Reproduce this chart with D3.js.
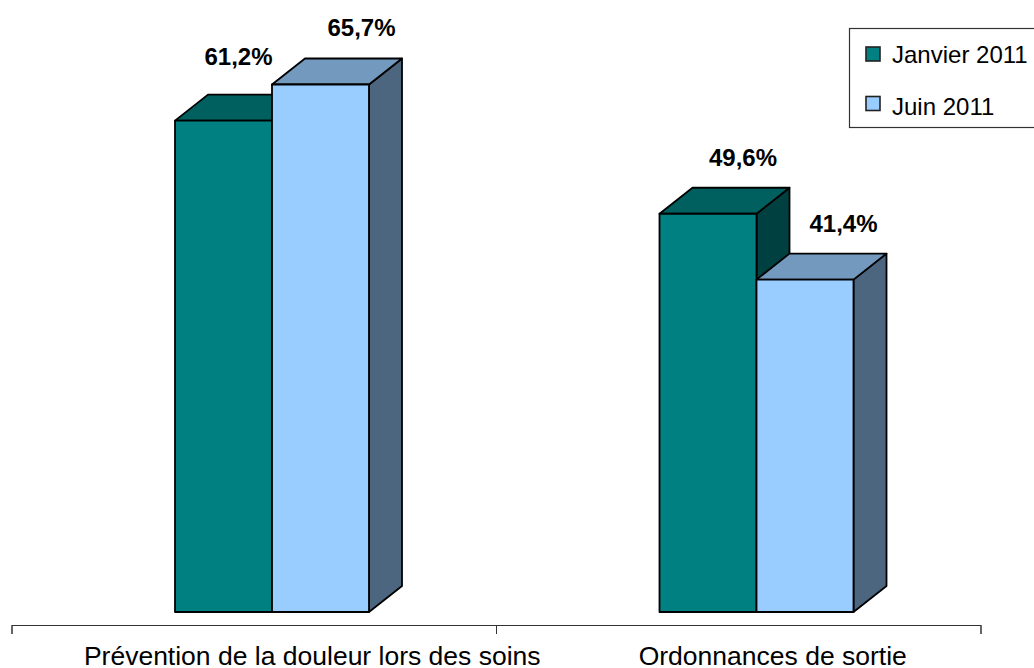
<!DOCTYPE html>
<html>
<head>
<meta charset="utf-8">
<script src="https://cdn.jsdelivr.net/npm/d3@7"></script>
<style>
html, body { margin: 0; padding: 0; background: #fff; overflow: hidden; }
text { font-family: "Liberation Sans", Arial, sans-serif; fill: #000; }
</style>
</head>
<body>
<svg width="1034" height="668"></svg>
<script>
var categories = ["Prévention de la douleur lors des soins", "Ordonnances de sortie"];
var seriesNames = ["Janvier 2011", "Juin 2011"];
var janvier = [61.2, 49.6];
var juin = [65.7, 41.4];

var values = [janvier, juin];

// front, top and side colours of each series
var colors = [
	{ front: "#008080", top: "#006060", side: "#004040" },
	{ front: "#99ccff", top: "#7399bf", side: "#4d6680" }
];

// hand placed data labels: dx from bar centre, dy above bar top [series][category]
var labelShift = [
	[[15, 56], [35, 48]],
	[[41, 49], [38.5, 48]]
];

var svg = d3.select("svg");

var baseY = 612;
var depthX = 33, depthY = 26;
var barWidth = 97;

var x = d3.scaleLinear().domain([0, categories.length]).range([11.5, 980.5]);
var y = d3.scaleLinear().domain([0, 65.7]).range([baseY, 84.5]);

// left edge of the first bar in a category, pushed right to leave room for the depth
function barX(c, s) {
	var mid = (x(c) + x(c + 1)) / 2;
	return mid - barWidth + 18.25 + s * barWidth;
}

function pts(a) {
	return a.map(function(p) { return p.join(","); }).join(" ");
}

var stroke = { stroke: "#000", width: 1.8 };

// category by category, Janvier first so Juin sits in front of it
categories.forEach(function(cat, c) {
	var g = svg.append("g").attr("class", "category");

	seriesNames.forEach(function(name, s) {
		var x0 = barX(c, s), x1 = x0 + barWidth, top = y(values[s][c]);
		var faces = [
			{ fill: colors[s].side, p: [[x1, top], [x1 + depthX, top - depthY], [x1 + depthX, baseY - depthY], [x1, baseY]] },
			{ fill: colors[s].top, p: [[x0, top], [x0 + depthX, top - depthY], [x1 + depthX, top - depthY], [x1, top]] },
			{ fill: colors[s].front, p: [[x0, top], [x1, top], [x1, baseY], [x0, baseY]] }
		];
		g.selectAll("polygon.s" + s)
			.data(faces)
			.enter().append("polygon")
				.attr("class", "s" + s)
				.attr("points", function(d) { return pts(d.p); })
				.attr("fill", function(d) { return d.fill; })
				.attr("stroke", stroke.stroke)
				.attr("stroke-width", stroke.width)
				.attr("stroke-linejoin", "round");
	});
});

// data labels go on after all bars
categories.forEach(function(cat, c) {
	seriesNames.forEach(function(name, s) {
		var shift = labelShift[s][c];
		svg.append("text")
			.attr("x", barX(c, s) + barWidth / 2 + shift[0])
			.attr("y", y(values[s][c]) - shift[1])
			.attr("text-anchor", "middle")
			.attr("font-size", 24)
			.attr("font-weight", "bold")
			.text(values[s][c].toFixed(1).replace(".", ",") + "%");
	});
});

// category axis: ticks on the band edges, labels in between
var axis = svg.append("g")
	.attr("transform", "translate(0,625)")
	.call(d3.axisBottom(x).tickValues(d3.range(categories.length + 1)).tickSize(9).tickSizeOuter(9).tickFormat(""));
axis.selectAll("path, line").attr("stroke", "#333").attr("stroke-width", 1);

svg.selectAll("text.cat")
	.data(categories)
	.enter().append("text")
		.attr("class", "cat")
		.attr("x", function(d, i) { return (x(i) + x(i + 1)) / 2 + (i ? 34.5 : 58.5); })
		.attr("y", 665)
		.attr("text-anchor", "middle")
		.attr("font-size", 26.5)
		.text(function(d) { return d; });

// legend, runs off the right edge like the original
var legend = svg.append("g");
legend.append("rect")
	.attr("x", 849.5).attr("y", 28.5)
	.attr("width", 200).attr("height", 99)
	.attr("fill", "#fff")
	.attr("stroke", "#333").attr("stroke-width", 1.2);

// swatches and texts do not share a row spacing in the original
var swatchRow = d3.scalePoint().domain(seriesNames).range([54, 103.5]);
var textRow = d3.scalePoint().domain(seriesNames).range([63, 114.5]);

seriesNames.forEach(function(name, s) {
	legend.append("rect")
		.attr("x", 866).attr("y", swatchRow(name) - 7)
		.attr("width", 14).attr("height", 14)
		.attr("fill", colors[s].front)
		.attr("stroke", "#222").attr("stroke-width", 1.6);
	legend.append("text")
		.attr("x", 892).attr("y", textRow(name))
		.attr("font-size", 24)
		.text(name);
});
</script>
</body>
</html>
